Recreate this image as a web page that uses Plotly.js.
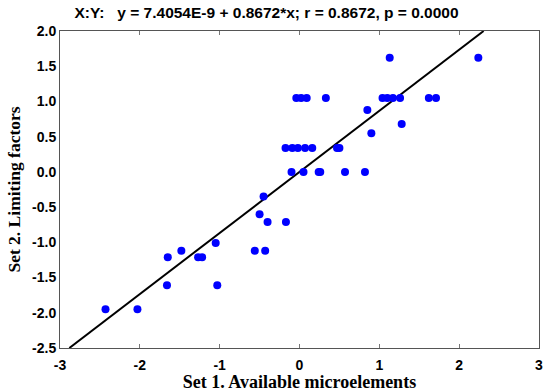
<!DOCTYPE html>
<html>
<head>
<meta charset="utf-8">
<script src="https://cdn.plot.ly/plotly-3.0.1.min.js"></script>
<style>html,body{margin:0;padding:0;background:#fff;}#chart{width:544px;height:392px;}</style>
</head>
<body>
<div id="chart"></div>
<script>
// Set 1 (x) and Set 2 (y) values
const setX = [1.13, 2.24,
  -0.04, 0.02, 0.09, 0.33, 1.04, 1.10, 1.17, 1.26, 1.62, 1.71,
  0.85, 1.28, 0.90,
  -0.175, -0.09, -0.02, 0.07, 0.16, 0.47, 0.50,
  -0.10, 0.05, 0.24, 0.26, 0.57, 0.82,
  -0.45, -0.50, -0.40, -0.17, -0.56, -0.43,
  -1.05, -1.48, -1.65, -1.27, -1.22, -1.66, -1.03, -2.43, -2.03];
const setY = [1.62, 1.62,
  1.05, 1.05, 1.05, 1.05, 1.05, 1.05, 1.05, 1.05, 1.05, 1.05,
  0.88, 0.68, 0.55,
  0.34, 0.34, 0.34, 0.34, 0.34, 0.34, 0.34,
  0.0, 0.0, 0.0, 0.0, 0.0, 0.0,
  -0.35, -0.60, -0.71, -0.71, -1.12, -1.12,
  -1.01, -1.12, -1.21, -1.21, -1.21, -1.61, -1.61, -1.95, -1.95];
// Regression from the chart title
const intercept = 7.4054e-9;
const slope = 0.8672;
const fitYEnds = [-2.5, 2.0];
const xTicks = [-3, -2, -1, 0, 1, 2, 3];
const yTicks = [-2.5, -2.0, -1.5, -1.0, -0.5, 0.0, 0.5, 1.0, 1.5, 2.0];
const yTickText = yTicks.map(v => v.toFixed(1));

const fitX = fitYEnds.map(y => (y - intercept) / slope);
const fitY = fitX.map(x => intercept + slope * x);

const traces = [
  {x: fitX, y: fitY, mode: 'lines', line: {color: '#000', width: 2}, hoverinfo: 'skip'},
  {x: setX, y: setY, mode: 'markers', marker: {color: '#0000FF', size: 8}}
];

const layout = {
  width: 544, height: 392,
  margin: {l: 60, r: 5, t: 31, b: 44},
  paper_bgcolor: '#fff', plot_bgcolor: '#fff',
  showlegend: false,
  title: {text: 'X:Y:   y = 7.4054E-9 + 0.8672*x; r = 0.8672, p = 0.0000',
    font: {family: 'Liberation Sans, Arial', size: 15.5, color: '#000', weight: 'bold'},
    x: 0.49, xanchor: 'center', y: 0.982, yanchor: 'top'},
  xaxis: {range: [-3, 3], tickvals: xTicks, ticktext: xTicks.map(String),
    showgrid: false, zeroline: false, showline: true, linecolor: '#555', linewidth: 1, mirror: 'ticks',
    ticks: 'inside', ticklen: 4, tickcolor: '#777', ticklabelstandoff: 4,
    tickfont: {family: 'Liberation Sans, Arial', size: 14, color: '#000', weight: 'bold'},
    title: {text: 'Set 1. Available microelements', standoff: 2,
      font: {family: 'Liberation Serif, Times New Roman', size: 18, color: '#000', weight: 'bold'}}},
  yaxis: {range: [-2.5, 2.0], tickvals: yTicks, ticktext: yTickText,
    showgrid: false, zeroline: false, showline: true, linecolor: '#555', linewidth: 1, mirror: true,
    ticks: '', ticklen: 0,
    tickfont: {family: 'Liberation Sans, Arial', size: 14, color: '#000', weight: 'bold'},
    title: {text: 'Set 2. Limiting factors', standoff: 6,
      font: {family: 'Liberation Serif, Times New Roman', size: 17.5, color: '#000', weight: 'bold'}}}
};

Plotly.newPlot('chart', traces, layout, {displayModeBar: false, staticPlot: true});
</script>
</body>
</html>
